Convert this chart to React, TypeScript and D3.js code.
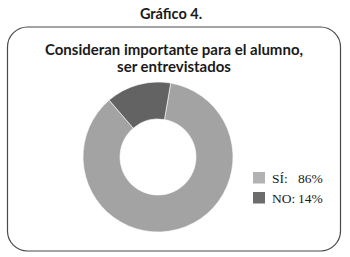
import React, { useEffect, useRef } from 'react';
import * as d3 from 'd3';

// chart data
const categories = ['SÍ', 'NO'];
const values = [86, 14];
const legendLabels = ['SÍ:', 'NO:'];
const legendValues = ['86%', '14%'];
const heading = 'Gráfico 4.';
const titleLines = ['Consideran importante para el alumno,', 'ser entrevistados'];

const App = () => {
    const ref = useRef<SVGSVGElement | null>(null);

    useEffect(() => {
        const width = 350, height = 257;
        const svg = d3.select(ref.current);
        svg.selectAll('*').remove();

        svg.append('rect')
            .attr('width', width)
            .attr('height', height)
            .attr('fill', '#ffffff');

        // heading above the box
        svg.append('text')
            .attr('x', 171)
            .attr('y', 19)
            .attr('text-anchor', 'middle')
            .style('font-family', 'Lato, "Open Sans", sans-serif')
            .style('font-weight', 700)
            .style('font-size', '14.5px')
            .style('fill', '#1a1a1a')
            .text(heading);

        // rounded frame
        svg.append('rect')
            .attr('x', 7.5)
            .attr('y', 27)
            .attr('width', 333)
            .attr('height', 224)
            .attr('rx', 20)
            .attr('fill', 'none')
            .attr('stroke', '#4a4a4a')
            .attr('stroke-width', 1.2);

        // title
        const title = svg.append('text')
            .attr('text-anchor', 'middle')
            .style('font-family', 'Lato, "Open Sans", sans-serif')
            .style('font-weight', 700)
            .style('font-size', '15px')
            .style('fill', '#1a1a1a');
        titleLines.forEach((line, i) => {
            title.append('tspan')
                .attr('x', 174)
                .attr('y', 55 + i * 17)
                .text(line);
        });

        // donut
        const cx = 158, cy = 157, outer = 75, inner = 38;
        const color = d3.scaleOrdinal<string, string>()
            .domain(categories)
            .range(['#b2b2b2', '#6c6c6c']);

        const defs = svg.append('defs');
        categories.forEach((c, i) => {
            const base = d3.color(color(c))!;
            const g = defs.append('radialGradient')
                .attr('id', 'grad' + i)
                .attr('gradientUnits', 'userSpaceOnUse')
                .attr('cx', cx).attr('cy', cy).attr('r', outer);
            g.append('stop').attr('offset', '50%').attr('stop-color', base.darker(0.25).toString());
            g.append('stop').attr('offset', '72%').attr('stop-color', base.brighter(0.12).toString());
            g.append('stop').attr('offset', '100%').attr('stop-color', base.darker(0.25).toString());
        });

        const start = 0.17;
        const pie = d3.pie<number>()
            .sort(null)
            .startAngle(start)
            .endAngle(start + 2 * Math.PI);
        const arc = d3.arc<d3.PieArcDatum<number>>()
            .innerRadius(inner)
            .outerRadius(outer);

        svg.append('g')
            .attr('transform', `translate(${cx},${cy})`)
            .selectAll('path')
            .data(pie(values))
            .enter()
            .append('path')
            .attr('d', arc)
            .attr('fill', (d, i) => `url(#grad${i})`)
            .attr('stroke', '#ffffff')
            .attr('stroke-width', 0.6);

        // legend
        const legend = svg.selectAll('.legend')
            .data(categories)
            .enter().append('g')
            .attr('class', 'legend')
            .attr('transform', (d, i) => `translate(253,${172 + i * 20})`);

        legend.append('rect')
            .attr('width', 12)
            .attr('height', 11.5)
            .attr('fill', d => color(d));

        legend.append('text')
            .attr('x', 19)
            .attr('y', 10.5)
            .style('font-family', '"Liberation Serif", "DejaVu Serif", serif')
            .style('font-size', '13.5px')
            .style('fill', '#1a1a1a')
            .text((d, i) => legendLabels[i]);

        legend.append('text')
            .attr('x', 45)
            .attr('y', 10.5)
            .style('font-family', '"Liberation Serif", "DejaVu Serif", serif')
            .style('font-size', '13.5px')
            .style('fill', '#1a1a1a')
            .text((d, i) => legendValues[i]);
    }, []);

    return (
        <svg ref={ref} width={350} height={257}
            style={{ position: 'fixed', top: 0, left: 0, display: 'block' }} />
    );
};

export default App;
